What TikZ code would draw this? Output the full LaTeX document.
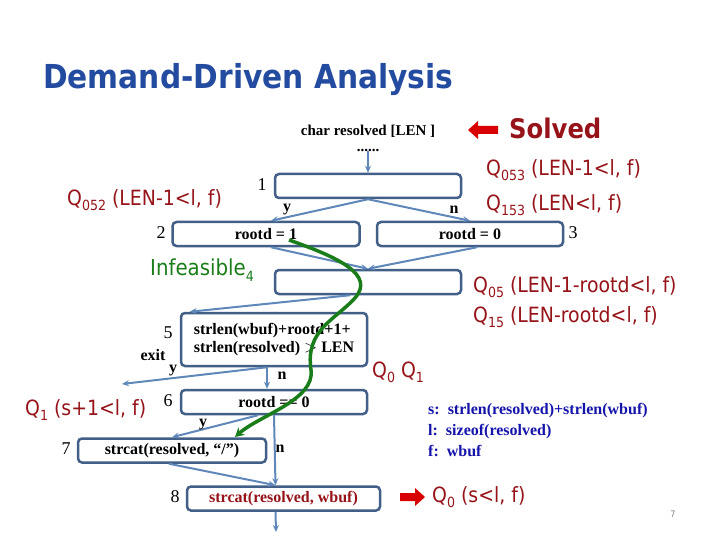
\documentclass[tikz,border=0pt]{standalone}
\usepackage{fontspec}
\setmainfont{Liberation Serif}
\newfontfamily\qf{DejaVu Sans Condensed}
\usetikzlibrary{calc,arrows.meta}
\definecolor{boxc}{RGB}{65,95,135}
\definecolor{linec}{RGB}{95,135,185}
\definecolor{qred}{RGB}{150,20,25}
\definecolor{titleb}{RGB}{35,75,160}
\definecolor{grn}{RGB}{25,125,25}
\definecolor{lblue}{RGB}{20,20,170}
\newcommand{\sbs}[1]{\raisebox{-0.45ex}{\fontsize{14}{14}\selectfont #1}}
\tikzset{
 blk/.style={draw=boxc,line width=2.5pt,rounded corners=4pt,fill=white,minimum height=24pt,font=\bfseries\fontsize{16}{18}\selectfont,inner sep=2pt},
 con/.style={draw=linec,line width=2pt,-{Stealth[length=7pt,width=6pt]}},
 q/.style={text=qred,font=\qf\fontsize{21}{22}\selectfont,anchor=west,inner sep=0},
 num/.style={font=\fontsize{18}{18}\selectfont,inner sep=0},
 yn/.style={font=\bfseries\fontsize{16}{16}\selectfont,inner sep=0},
 rarr/.style={fill=red!85!black,draw=none}
}
\begin{document}
\begin{tikzpicture}[x=1pt,y=-1pt]
\useasboundingbox (0,0) rectangle (720,540);
\node[anchor=west,text=titleb,font=\qf\bfseries\fontsize{33}{33}\selectfont,inner sep=0] (title) at (43,80) {Demand-Driven Analysis};
\node[font=\bfseries\fontsize{15}{15}\selectfont,inner sep=0] (decl) at (368,131) {char resolved [LEN ]};
\node[text=qred,font=\qf\bfseries\fontsize{27}{27}\selectfont,anchor=west,inner sep=0] (solved) at (509,128) {Solved};
\node[font=\bfseries\fontsize{15}{15}\selectfont,inner sep=0] (dots) at (368,150) {......};
% boxes
\node[blk,minimum width=186pt] (b1) at (368,186) {};
\node[blk,minimum width=187pt] (b2) at (266,234) {rootd = 1};
\node[blk,minimum width=186pt] (b3) at (470,234) {rootd = 0};
\node[blk,minimum width=186pt] (b4) at (368,282) {};
\node[blk,minimum width=186pt,minimum height=53pt,align=left] (b5) at (274,339.5) {strlen(wbuf)+rootd+1+\\strlen(resolved) $>$ LEN};
\node[blk,minimum width=186pt] (b6) at (274,402) {rootd == 0};
\node[blk,minimum width=188pt] (b7) at (172,450.5) {strcat(resolved, “/”)};
\node[blk,minimum width=193pt,text=qred] (b8) at (283.5,498.5) {strcat(resolved, wbuf)};
\coordinate (exitend) at (122,384);
\coordinate (bottomend) at (276,532);
% connectors
\draw[con] (dots) -- (b1.north);
\draw[con] (b1.south) -- ($(b2.north)+(5,0)$);
\draw[con] (b1.south) -- (b3.north);
\draw[con] ($(b2.south)+(5,0)$) -- (b4.north);
\draw[con] ($(b3.south)+(7,0)$) -- (b4.north);
\draw[con] ($(b4.south)+(-18,0)$) -- ($(b5.north west)+(10,0)$);
\draw[con] ($(b5.south)+(-7,0)$) -- (exitend);
\draw[con] ($(b5.south)+(-7,0)$) -- ($(b6.north)+(-7,0)$);
\draw[con] ($(b6.south)+(-16,0)$) -- ($(b7.north)+(0,0)$);
\draw[con] ($(b6.south)+(0,0)$) -- ($(b8.north)+(-8,0)$);
\draw[con] ($(b7.south)+(-3,0)$) -- ($(b8.north)+(-8,0)$);
\draw[con] ($(b8.south)+(-8,0)$) -- (bottomend);
% green path
\coordinate (g0) at (289,240);
\coordinate (g1) at (235,437);
\draw[grn,line width=3.5pt,-{Stealth[length=9pt,width=10pt]}] (g0) .. controls (340,258) and (375,275) .. (355,298) .. controls (335,320) and (305,330) .. (311,370) .. controls (315,400) and (260,415) .. (g1);
% red arrows
\fill[rarr] (468,130) -- (478,121) -- (478,126) -- (498,126) -- (498,134) -- (478,134) -- (478,139) -- cycle;
\fill[rarr] (425,497) -- (415,488) -- (415,493) -- (400,493) -- (400,501) -- (415,501) -- (415,506) -- cycle;
% numbers
\node[num] (n1) at (262,185) {1};
\node[num] (n2) at (161,233) {2};
\node[num] (n3) at (573,233) {3};
\node[num] (n5) at (168,333) {5};
\node[num] (n6) at (168,401) {6};
\node[num] (n7) at (66,449) {7};
\node[num] (n8) at (175,497) {8};
\node[yn] (y1) at (287,210) {y};
\node[yn] (no1) at (454,210) {n};
\node[yn] (ex) at (153,355) {exit};
\node[yn] (y5) at (173,371) {y};
\node[yn] (n5b) at (282,376) {n};
\node[yn] (y6) at (203,425) {y};
\node[yn] (n6b) at (280,449) {n};
% Q labels
\node[q] (q053) at (486,170) {Q\sbs{053} (LEN-1<l, f)};
\node[q] (q153) at (486,205) {Q\sbs{153} (LEN<l, f)};
\node[q] (q052) at (67,200) {Q\sbs{052} (LEN-1<l, f)};
\node[q] (q05) at (473,287) {Q\sbs{05} (LEN-1-rootd<l, f)};
\node[q] (q15) at (473,317) {Q\sbs{15} (LEN-rootd<l, f)};
\node[q] (q01) at (372,372) {Q\sbs{0} Q\sbs{1}};
\node[q] (q1) at (25,410) {Q\sbs{1} (s+1<l, f)};
\node[q] (q0) at (432,497) {Q\sbs{0} (s<l, f)};
\node[anchor=west,text=grn,font=\qf\fontsize{22}{22}\selectfont,inner sep=0] (inf) at (150,270) {Infeasible\sbs{4}};
\node[anchor=west,text=lblue,font=\bfseries\fontsize{16}{17}\selectfont,align=left,inner sep=0] (legend) at (428,430) {s:\ \ strlen(resolved)+strlen(wbuf)\\[4pt]l:\ \ sizeof(resolved)\\[4pt]f:\ \ wbuf};
\node[text=gray,font=\qf\fontsize{9}{9}\selectfont,inner sep=0] (pg) at (673,514) {7};
\end{tikzpicture}
\end{document}
